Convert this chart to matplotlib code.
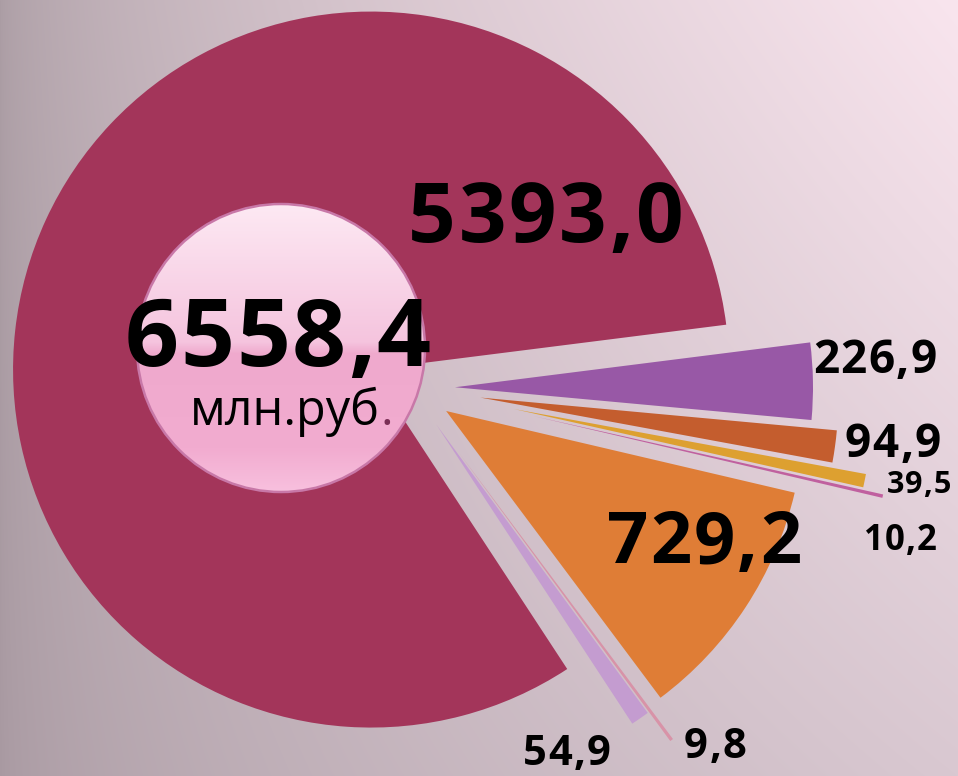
import numpy as np
import matplotlib
matplotlib.use("Agg")
import matplotlib.pyplot as plt
from matplotlib.patches import Circle

# slice values, clockwise from the right
values = [226.9, 94.9, 39.5, 10.2, 729.2, 9.8, 54.9, 5393.0]
labels = ["226,9", "94,9", "39,5", "10,2", "729,2", "9,8", "54,9", "5393,0"]
colors = ["#9858A6", "#C45D2E", "#DDA030", "#C0609F",
          "#DF7D36", "#D893A8", "#C49CD0", "#A3355A"]
total_label = "6558,4"
unit_label = "млн.руб"

W, H = 958, 776
FONT = "Open Sans"

fig = plt.figure(figsize=(W / 100, H / 100), dpi=100)
ax = fig.add_axes([0, 0, 1, 1])

# background gradient
xs = np.linspace(0, 1, W)[None, :, None]
ys = np.linspace(0, 1, H)[:, None, None]
tl = np.array([171, 157, 164]) / 255
tr = np.array([249, 229, 238]) / 255
bl = np.array([168, 153, 161]) / 255
br = np.array([217, 200, 209]) / 255
xs2 = xs ** 0.6
bg = (tl * (1 - xs2) + tr * xs2) * (1 - ys) + (bl * (1 - xs2) + br * xs2) * ys
ax.imshow(bg, extent=(0, W, 0, H), origin="upper", zorder=0, aspect="auto")

# pie (pixel units, y up), thin slices pushed out further
cx, cy = 411, H - 388
explode = [44, 70, 105, 126, 42, 80, 44, 44]
wedges, _ = ax.pie(values, colors=colors, startangle=7.2, counterclock=False,
                   radius=358, center=(cx, cy), explode=explode,
                   wedgeprops=dict(linewidth=0))
for w in wedges:
    w.set_zorder(2)

# center disc with gradient
disc_c = (281, H - 348)
disc_r = 144
t = np.linspace(0, 1, 300)[:, None]
stops = [(0.0, (253, 233, 243)), (0.48, (245, 196, 222)), (0.52, (239, 169, 205)),
         (0.85, (242, 172, 208)), (1.0, (248, 192, 222))]
grad = np.zeros((300, 1, 3))
for ch in range(3):
    grad[:, 0, ch] = np.interp(t[:, 0], [s[0] for s in stops], [s[1][ch] / 255 for s in stops])
im = ax.imshow(grad, extent=(disc_c[0] - disc_r, disc_c[0] + disc_r,
                             disc_c[1] - disc_r, disc_c[1] + disc_r),
               origin="upper", aspect="auto", zorder=3)
clip = Circle(disc_c, disc_r, transform=ax.transData)
im.set_clip_path(clip)
ax.add_patch(Circle(disc_c, disc_r, facecolor="none", edgecolor="#C878A8", lw=1.8, zorder=4))


# text with a bit of letter spacing
def txt(s, x, y, size, weight="bold", color="black", track=1.5):
    first = ax.text(x, H - y, s[0], fontsize=size, fontweight=weight, color=color,
                    family=FONT, ha="left", va="baseline", zorder=5)
    prev = first
    for ch in s[1:]:
        prev = ax.annotate(ch, xy=(1, 0), xycoords=prev, xytext=(track, 0),
                           textcoords="offset points", ha="left", va="bottom",
                           fontsize=size, fontweight=weight, color=color,
                           family=FONT, zorder=5)
    return prev


label_pos = [(813, 373, 33, 1.0), (845, 457, 33, 1.0), (887, 493, 22, 0.6),
             (864, 550, 25, 0.8), (607, 563, 52, 1.5), (684, 758, 30, 1.0),
             (523, 765, 30, 1.0), (408, 242, 60, 2.0)]
for s, (x, y, fs, tr_) in zip(labels, label_pos):
    txt(s, x, y, fs, track=tr_)

txt(total_label, 125, 366, 68, track=1.2)
u = ax.text(190, H - 425, unit_label, fontsize=35, color="black", family=FONT,
            ha="left", va="baseline", zorder=5)
ax.annotate(".", xy=(1, 0), xycoords=u, ha="left", va="bottom", fontsize=35,
            family=FONT, color="#7A2E55", zorder=5)

ax.set_xlim(0, W)
ax.set_ylim(0, H)
ax.set_aspect("auto")
ax.axis("off")

fig.savefig("out.png", dpi=100)
